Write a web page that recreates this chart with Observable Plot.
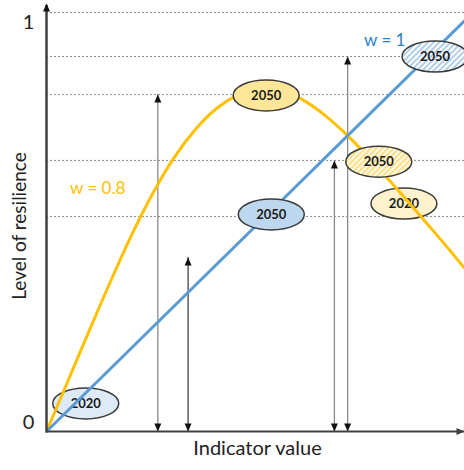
<!DOCTYPE html>
<html><head><meta charset="utf-8">
<script src="https://cdn.jsdelivr.net/npm/d3@7"></script>
<script src="https://cdn.jsdelivr.net/npm/@observablehq/plot@0.6"></script>
<style>body{margin:0;background:#fff;font-family:Lato,sans-serif}</style>
</head><body>
<svg width="0" height="0" style="position:absolute">
<defs>
<pattern id="hatchBlue" width="4" height="4" patternUnits="userSpaceOnUse" patternTransform="rotate(45)">
<rect width="4" height="4" fill="#ffffff"/><line x1="1" y1="0" x2="1" y2="4" stroke="#9dc3e6" stroke-width="1.6"/>
</pattern>
<pattern id="hatchOrange" width="4" height="4" patternUnits="userSpaceOnUse" patternTransform="rotate(45)">
<rect width="4" height="4" fill="#fffaf0"/><line x1="1" y1="0" x2="1" y2="4" stroke="#ffd966" stroke-width="1.6"/>
</pattern>
</defs></svg>
<div id="chart"></div>
<script>
// ---- data ----
const indicatorW08 = [0, 0.05, 0.10, 0.15, 0.20, 0.25, 0.30, 0.35, 0.40, 0.45, 0.50, 0.55, 0.60, 0.65, 0.70, 0.75, 0.80, 0.85, 0.90, 0.95, 0.98];
const resilienceW08 = [0, 0.120, 0.240, 0.358, 0.470, 0.570, 0.655, 0.722, 0.772, 0.804, 0.819, 0.815, 0.792, 0.757, 0.712, 0.660, 0.604, 0.546, 0.487, 0.427, 0.390];
const indicatorW1 = [0, 0.98];
const resilienceW1 = [0, 0.98];

const gridLevels = [1, 0.895, 0.804, 0.647, 0.513];
const yTickTop = [1];
const yTickBottom = [0];

const arrowX = [0.261, 0.332, 0.675, 0.706];
const arrowTop = [0.804, 0.415, 0.647, 0.895];
const arrowShade = ["light", "dark", "light", "light"];

const ellipseLabel = ["2020", "2050", "2050", "2050", "2050", "2020"];
const ellipseX = [0.092, 0.527, 0.911, 0.515, 0.779, 0.838];
const ellipseY = [0.067, 0.518, 0.895, 0.802, 0.644, 0.544];
const ellipseKind = ["blue2020", "blue2050", "blueHatch", "orange2050", "orangeHatch", "orange2020"];

const seriesLabels = ["w = 1", "w = 0.8"];
const seriesLabelX = [0.793, 0.12];
const seriesLabelY = [0.933, 0.58];

const xMax = 0.98, yArrowTip = 1.017;

// ---- tables ----
const w08 = indicatorW08.map((x, i) => ({x, y: resilienceW08[i]}));
const w1 = indicatorW1.map((x, i) => ({x, y: resilienceW1[i]}));
const arrows = arrowX.map((x, i) => ({x, top: arrowTop[i], shade: arrowShade[i]}));
const heads = arrows.flatMap(a => [{x: a.x, y: a.top, rot: 0}, {x: a.x, y: 0, rot: 180}]);
const ellipses = ellipseLabel.map((label, i) => ({label, x: ellipseX[i], y: ellipseY[i], kind: ellipseKind[i]}));
const front = ellipses.filter(e => e.label === "2050");
const back = ellipses.filter(e => e.label === "2020");
const fills = {blue2020: "#deebf7", blue2050: "#bdd7ee", blueHatch: "url(#hatchBlue)", orange2050: "#ffe699", orangeHatch: "url(#hatchOrange)", orange2020: "#fff2cc"};
const seriesText = seriesLabels.map((t, i) => ({t, x: seriesLabelX[i], y: seriesLabelY[i], c: i === 0 ? "#2e7fc6" : "#ffc000"}));

// custom symbols
const ellipseSymbol = {draw(ctx) {
  const rx = 33, ry = 15.5, k = 0.5523;
  ctx.moveTo(rx, 0);
  ctx.bezierCurveTo(rx, k*ry, k*rx, ry, 0, ry);
  ctx.bezierCurveTo(-k*rx, ry, -rx, k*ry, -rx, 0);
  ctx.bezierCurveTo(-rx, -k*ry, -k*rx, -ry, 0, -ry);
  ctx.bezierCurveTo(k*rx, -ry, rx, -k*ry, rx, 0);
  ctx.closePath();
}};
const headSymbol = {draw(ctx) {
  ctx.moveTo(0, 0); ctx.lineTo(-3.5, 8); ctx.lineTo(3.5, 8); ctx.closePath();
}};

const ellipseMarks = (data) => [
  Plot.dot(data, {x: "x", y: "y", symbol: ellipseSymbol, r: 5, fill: d => fills[d.kind], stroke: "#3a3a3a", strokeWidth: 1.5}),
  Plot.text(data, {x: "x", y: "y", text: "label", fontSize: 13, fontWeight: "bold", fill: "#1a1a1a", fontFamily: "Lato"})
];

const chart = Plot.plot({
  width: 464, height: 470,
  marginLeft: 46, marginRight: 0, marginTop: 12, marginBottom: 39,
  x: {domain: [0, xMax], axis: null},
  y: {domain: [0, 1], axis: null},
  style: {fontFamily: "Lato, sans-serif", background: "#fff"},
  marks: [
    Plot.ruleY(gridLevels, {stroke: "#8c8c8c", strokeDasharray: "2,2", strokeWidth: 1}),
    ...ellipseMarks(back),
    Plot.ruleX(arrows, {x: "x", y1: 0, y2: "top", stroke: d => d.shade === "dark" ? "#444" : "#8a8a8a", strokeWidth: 1.3}),
    Plot.dot(heads, {x: "x", y: "y", symbol: headSymbol, rotate: "rot", fill: "#111", r: 4}),
    Plot.line(w08, {x: "x", y: "y", stroke: "#ffc000", strokeWidth: 3, curve: "monotone-x"}),
    Plot.line(w1, {x: "x", y: "y", stroke: "#5b9bd5", strokeWidth: 3}),
    ...ellipseMarks(front),
    Plot.ruleX([0], {y1: 0, y2: yArrowTip, stroke: "#404040", strokeWidth: 2.5}),
    Plot.ruleY([0], {stroke: "#404040", strokeWidth: 2}),
    Plot.dot([0], {x: 0, y: yArrowTip, symbol: headSymbol, fill: "#111", r: 4, dy: -2}),
    Plot.dot([0], {x: xMax, y: 0, symbol: headSymbol, rotate: 90, fill: "#404040", r: 4}),
    Plot.text(yTickTop, {x: 0, y: d => d, text: d => String(d), dx: -18, dy: 10, fontSize: 20, fill: "#222"}),
    Plot.text(yTickBottom, {x: 0, y: d => d, text: d => String(d), dx: -18, dy: -9, fontSize: 20, fill: "#222"}),
    Plot.text(seriesText, {x: "x", y: "y", text: "t", fill: "c", fontSize: 17}),
    Plot.text(["Level of resilience"], {frameAnchor: "left", textAnchor: "middle", dx: -27, dy: 4, rotate: -90, fontSize: 19, fill: "#222"}),
    Plot.text(["Indicator value"], {frameAnchor: "bottom", textAnchor: "middle", dy: 23, dx: 2, fontSize: 20, fill: "#222"})
  ]
});
document.getElementById("chart").appendChild(chart);
</script>
</body></html>
